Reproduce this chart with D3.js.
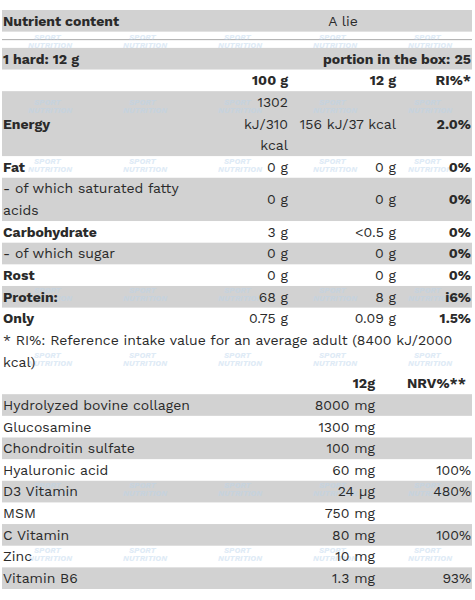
<!DOCTYPE html>
<html><head><meta charset="utf-8">
<script src="https://cdn.jsdelivr.net/npm/d3@7"></script>
<style>body{margin:0;background:#fff}</style>
</head><body>
<svg id="chart" width="475" height="600"></svg>
<script>
// nutrition rows
const nutrients = ["Energy", "Fat", "- of which saturated fatty|acids", "Carbohydrate", "- of which sugar", "Rost", "Protein:", "Only"];
const nutrientBold = [true, true, false, true, false, true, true, true];
const per100g = ["1302|kJ/310|kcal", "0 g", "0 g", "3 g", "0 g", "0 g", "68 g", "0.75 g"];
const per12g = ["156 kJ/37 kcal", "0 g", "0 g", "<0.5 g", "0 g", "0 g", "8 g", "0.09 g"];
const riPct = ["2.0%", "0%", "0%", "0%", "0%", "0%", "i6%", "1.5%"];
const nutrientLines = [3, 1, 2, 1, 1, 1, 1, 1];

// active ingredients
const ingredients = ["Hydrolyzed bovine collagen", "Glucosamine", "Chondroitin sulfate", "Hyaluronic acid", "D3 Vitamin", "MSM", "C Vitamin", "Zinc", "Vitamin B6"];
const amount12g = ["8000 mg", "1300 mg", "100 mg", "60 mg", "24 µg", "750 mg", "80 mg", "10 mg", "1.3 mg"];
const nrvPct = ["", "", "", "100%", "480%", "", "100%", "", "93%"];

const footnote = "* RI%: Reference intake value for an average adult (8400 kJ/2000|kcal)";

const svg = d3.select("#chart");
const font = "'Work Sans','Noto Sans','Open Sans',sans-serif";
const grey = "#d2d2d2";

// build row list with line units
const rows = [];
rows.push({ units: 1, fill: grey, cells: [{ t: "Nutrient content", x: 3, a: "start", b: true }, { t: "A lie", x: 343, a: "middle" }] });
rows.push({ units: 0.75, fill: null, rule: true, cells: [] });
rows.push({ units: 1, fill: grey, cells: [{ t: "1 hard: 12 g", x: 3, a: "start", b: true }, { t: "portion in the box: 25", x: 471, a: "end", b: true }] });
rows.push({ units: 1, fill: null, cells: [{ t: "100 g", x: 288, a: "end", b: true }, { t: "12 g", x: 396, a: "end", b: true }, { t: "RI%*", x: 471, a: "end", b: true }] });
nutrients.forEach((n, i) => {
  rows.push({
    units: nutrientLines[i], fill: i % 2 === 0 ? grey : null,
    cells: [
      { t: n, x: 3, a: "start", b: nutrientBold[i] },
      { t: per100g[i], x: 288, a: "end" },
      { t: per12g[i], x: 396, a: "end" },
      { t: riPct[i], x: 471, a: "end", b: true }
    ]
  });
});
rows.push({ units: 2, fill: null, cells: [{ t: footnote, x: 3, a: "start" }] });
rows.push({ units: 1, fill: null, cells: [{ t: "12g", x: 375, a: "end", b: true }, { t: "NRV%**", x: 466, a: "end", b: true }] });
ingredients.forEach((n, i) => {
  rows.push({
    units: 1, fill: i % 2 === 0 ? grey : null,
    cells: [
      { t: n, x: 3, a: "start" },
      { t: amount12g[i], x: 375, a: "end" },
      { t: nrvPct[i], x: 471, a: "end" }
    ]
  });
});

let acc = 0;
rows.forEach(r => { r.u0 = acc; acc += r.units; });
const y = d3.scaleLinear().domain([0, acc]).range([10, 589]);

// faint watermarks (drawn beneath the text)
const wmX = [22, 117, 212, 307, 402];
const wmY = [42, 107, 166, 295, 360, 490, 555];
const wm = svg.append("g");

const g = svg.append("g");
rows.forEach(r => {
  const y0 = y(r.u0), y1 = y(r.u0 + r.units);
  if (r.fill) wm.append("rect").attr("x", 2).attr("y", y0).attr("width", 470).attr("height", y1 - y0).attr("fill", r.fill);
  if (r.rule) wm.append("line").attr("x1", 2).attr("x2", 472).attr("y1", y0 + 8).attr("y2", y0 + 8).attr("stroke", "#aaa");
  r.cells.forEach(c => {
    const lines = c.t.split("|");
    const lh = (y1 - y0) / r.units;
    const start = (y0 + y1) / 2 - (lines.length - 1) * lh / 2;
    lines.forEach((l, k) => {
      g.append("text")
        .attr("x", c.x).attr("y", start + k * lh).attr("dy", "0.35em")
        .attr("text-anchor", c.a)
        .attr("font-family", font).attr("font-size", 14)
        .attr("font-weight", c.b ? "bold" : "normal")
        .attr("fill", "#2a2a2a")
        .text(l);
    });
  });
});

wmY.forEach(wy => wmX.forEach(wx => {
  const w = wm.append("g").attr("transform", `translate(${wx},${wy})`).attr("opacity", 0.45);
  w.append("text").attr("x", 12).attr("y", -2).attr("font-family", font).attr("font-size", 8).attr("font-weight", "bold").attr("font-style", "italic").attr("fill", "#b9d3ec").text("SPORT");
  w.append("text").attr("x", 6).attr("y", 6).attr("font-family", font).attr("font-size", 8).attr("font-weight", "bold").attr("font-style", "italic").attr("fill", "#b9d3ec").text("NUTRITION");
}));
</script>
</body></html>
